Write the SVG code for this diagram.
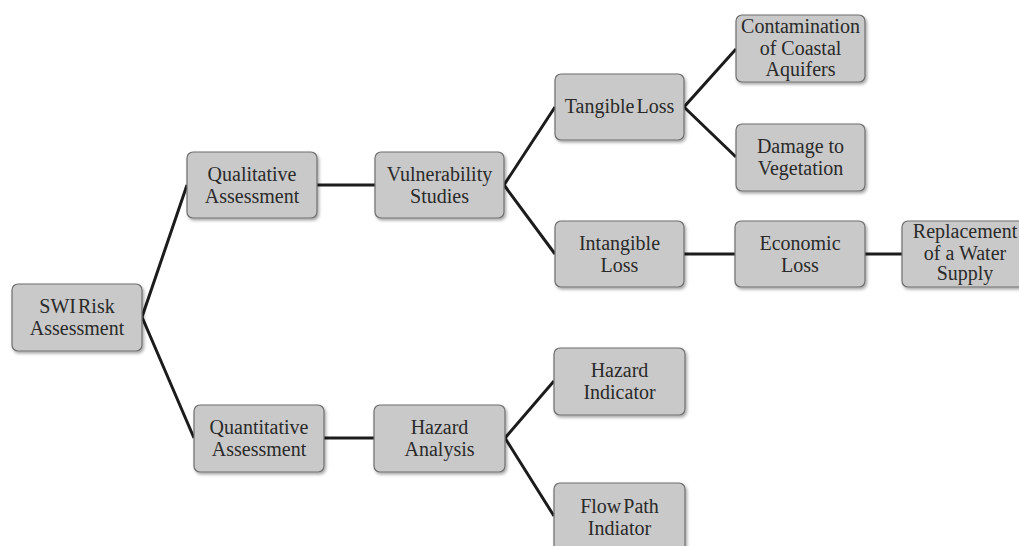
<svg xmlns="http://www.w3.org/2000/svg" width="1019" height="546" viewBox="0 0 1019 546">
<defs>
<filter id="sh" x="-10%" y="-10%" width="130%" height="140%">
<feDropShadow dx="1.5" dy="2" stdDeviation="1.5" flood-color="#000" flood-opacity="0.35"/>
</filter>
<style>
.box{fill:#c9c9c9;stroke:#6e6e6e;stroke-width:1.2;filter:url(#sh)}
.t{font-family:"Liberation Serif","Times New Roman",serif;font-size:20px;fill:#2a2a2a;text-anchor:middle}
.n{word-spacing:-3px}
.c{stroke:#1c1c1c;stroke-width:3;fill:none;stroke-linejoin:miter}
</style>
</defs>
<rect width="1019" height="546" fill="#ffffff"/>
<g id="connectors">
<polyline class="c" points="187,185 142,317 194,438"/>
<line class="c" x1="317" y1="185" x2="375" y2="185"/>
<polyline class="c" points="555,107 504,185 555,254"/>
<polyline class="c" points="736,49 684,107 736,157"/>
<line class="c" x1="684" y1="254" x2="735" y2="254"/>
<line class="c" x1="865" y1="254" x2="902" y2="254"/>
<line class="c" x1="324" y1="438" x2="374" y2="438"/>
<polyline class="c" points="554,381 505,438 554,516"/>
</g>
<g id="swi">
<rect class="box" x="12" y="284" width="130" height="67" rx="6"/>
<text class="t n" x="77" y="313">SWI Risk</text>
<text class="t" x="77" y="335">Assessment</text>
</g>
<g id="qualitative">
<rect class="box" x="187" y="152" width="130" height="66" rx="6"/>
<text class="t" x="252" y="181">Qualitative</text>
<text class="t" x="252" y="203">Assessment</text>
</g>
<g id="vulnerability">
<rect class="box" x="375" y="152" width="129" height="66" rx="6"/>
<text class="t" x="439.5" y="181">Vulnerability</text>
<text class="t" x="439.5" y="203">Studies</text>
</g>
<g id="tangible">
<rect class="box" x="555" y="74" width="129" height="66" rx="6"/>
<text class="t n" x="619.5" y="113">Tangible Loss</text>
</g>
<g id="contamination">
<rect class="box" x="736" y="15" width="129" height="67" rx="6"/>
<text class="t" x="800.5" y="33">Contamination</text>
<text class="t" x="800.5" y="55">of Coastal</text>
<text class="t" x="800.5" y="76">Aquifers</text>
</g>
<g id="damage">
<rect class="box" x="736" y="124" width="129" height="67" rx="6"/>
<text class="t" x="800.5" y="153">Damage to</text>
<text class="t" x="800.5" y="175">Vegetation</text>
</g>
<g id="intangible">
<rect class="box" x="555" y="221" width="129" height="66" rx="6"/>
<text class="t" x="619.5" y="250">Intangible</text>
<text class="t" x="619.5" y="272">Loss</text>
</g>
<g id="economic">
<rect class="box" x="735" y="221" width="130" height="66" rx="6"/>
<text class="t" x="800" y="250">Economic</text>
<text class="t" x="800" y="272">Loss</text>
</g>
<g id="replacement">
<rect class="box" x="902" y="221" width="128" height="66" rx="6"/>
<text class="t" x="965" y="238">Replacement</text>
<text class="t" x="965" y="260">of a Water</text>
<text class="t" x="965" y="280">Supply</text>
</g>
<g id="quantitative">
<rect class="box" x="194" y="405" width="130" height="67" rx="6"/>
<text class="t" x="259" y="434">Quantitative</text>
<text class="t" x="259" y="456">Assessment</text>
</g>
<g id="hazard-analysis">
<rect class="box" x="374" y="405" width="131" height="67" rx="6"/>
<text class="t" x="439.5" y="434">Hazard</text>
<text class="t" x="439.5" y="456">Analysis</text>
</g>
<g id="hazard-indicator">
<rect class="box" x="554" y="348" width="131" height="67" rx="6"/>
<text class="t" x="619.5" y="377">Hazard</text>
<text class="t" x="619.5" y="399">Indicator</text>
</g>
<g id="flowpath">
<rect class="box" x="554" y="483" width="131" height="70" rx="6"/>
<text class="t n" x="619.5" y="513">Flow Path</text>
<text class="t" x="619.5" y="535">Indiator</text>
</g>
</svg>
